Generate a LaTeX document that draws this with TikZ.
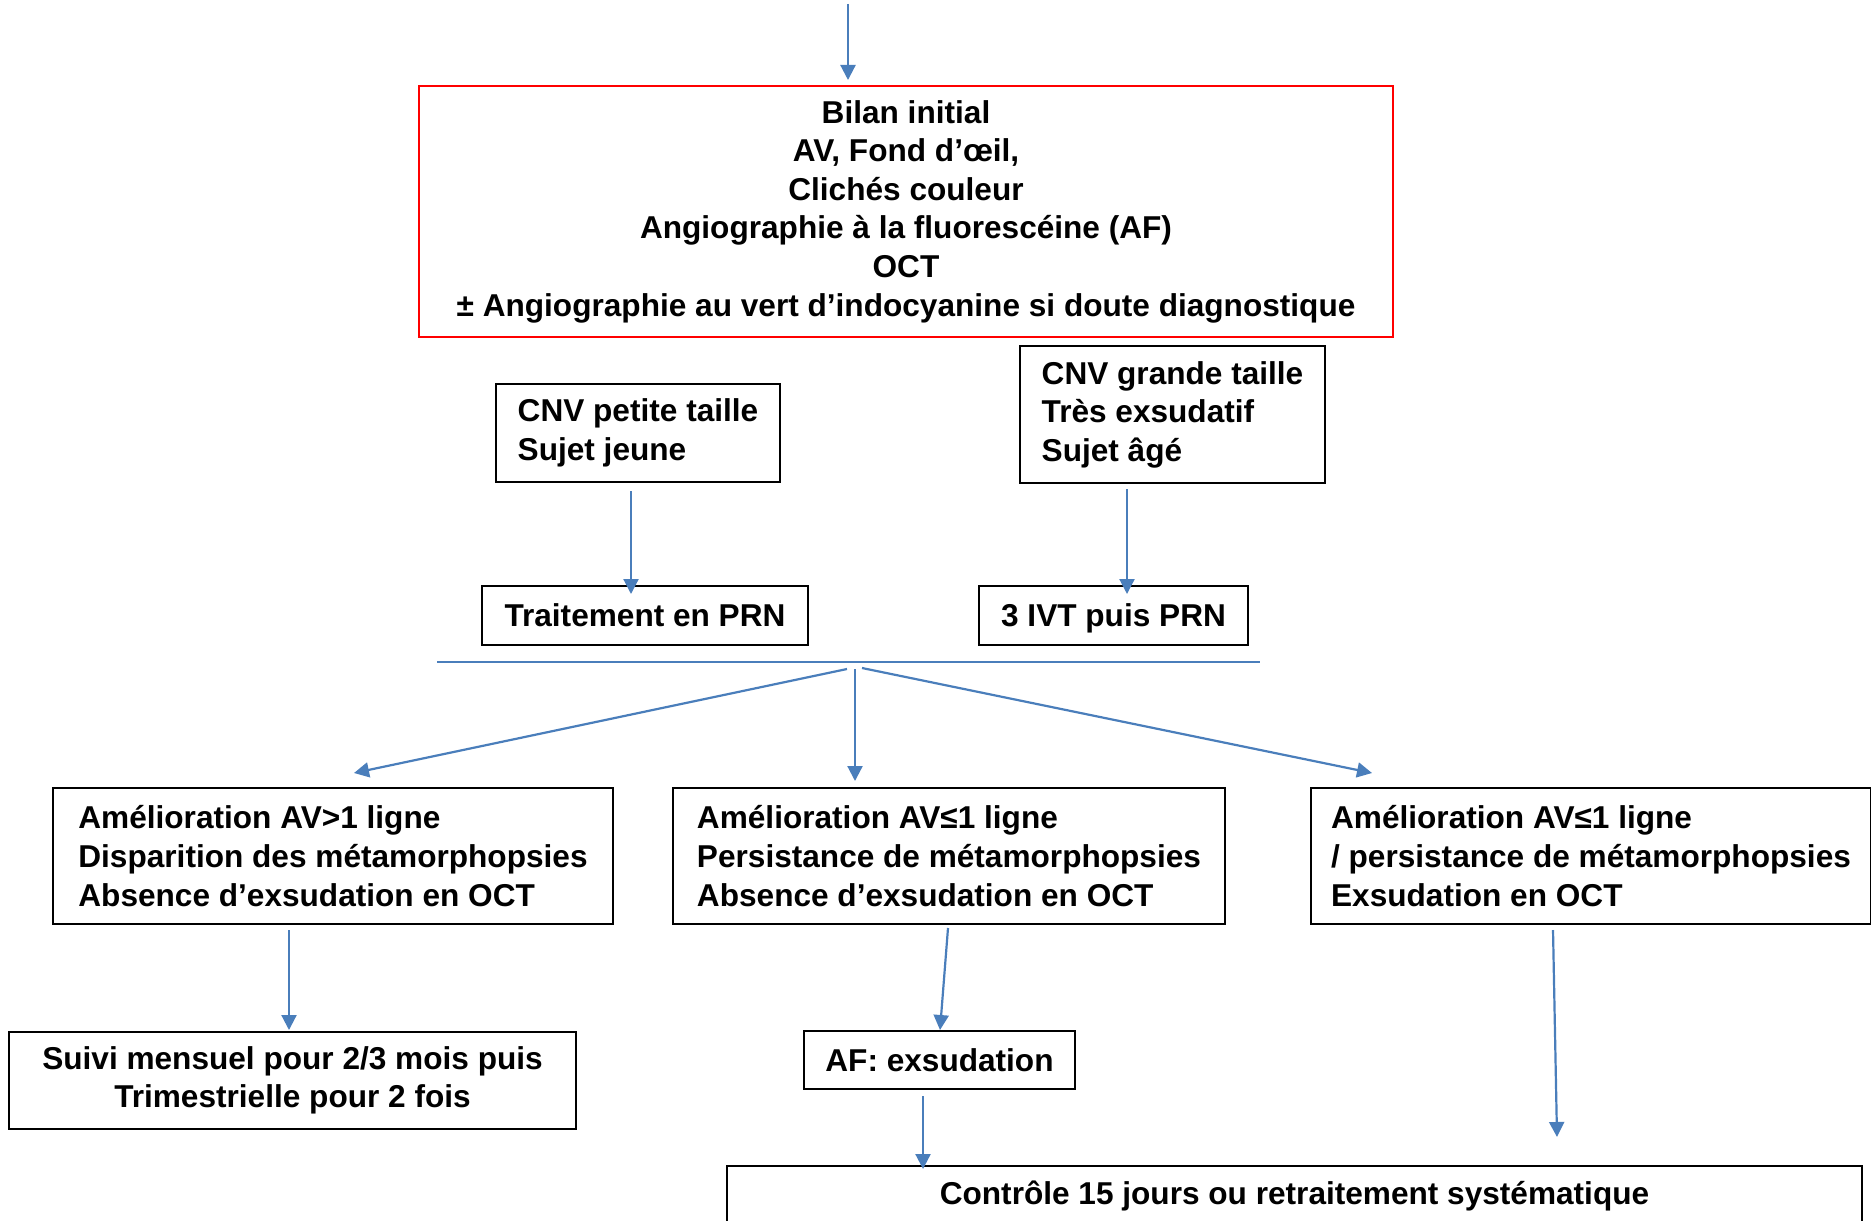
\documentclass[tikz,border=0pt]{standalone}
\usepackage{fontspec}
\setmainfont{Liberation Sans}
\usetikzlibrary{arrows.meta}
\definecolor{flowblue}{RGB}{74,126,187}
\definecolor{boxred}{RGB}{255,0,0}
\begin{document}
\begin{tikzpicture}[x=0.5pt,y=-0.5pt,
    box/.style={draw=black, line width=1pt, anchor=north west,
      font=\bfseries\fontsize{15.8}{19.3}\selectfont,
      inner xsep=0pt, inner ysep=0pt},
    flow/.style={draw=flowblue, line width=1.1pt,
      -{Triangle[length=7.5pt,width=7.5pt]}},
    rule/.style={draw=flowblue, line width=0.9pt}]
  \useasboundingbox (0,0) rectangle (1871,1220);
  \clip (0,0) rectangle (1871,1220);
  % boxes
  \node[box, draw=boxred, align=center, minimum width=487pt, minimum height=125.5pt]
    (bilan) at (418,85) {Bilan initial\\AV, Fond d’œil,\\Clichés couleur\\
      Angiographie à la fluorescéine (AF)\\OCT\\
      ± Angiographie au vert d’indocyanine si doute diagnostique};
  \node[box, align=left, minimum width=142pt, minimum height=49pt]
    (cnvp) at (495,383) {CNV petite taille\\Sujet jeune};
  \node[box, align=left, minimum width=152.5pt, minimum height=68.5pt]
    (cnvg) at (1019,345) {CNV grande taille\\Très exsudatif\\Sujet âgé};
  \node[box, align=center, minimum width=163pt, minimum height=29.5pt]
    (prn) at (481,585) {Traitement en PRN};
  \node[box, align=center, text depth=0pt, minimum width=134.5pt, minimum height=29.5pt]
    (ivt) at (978,585) {3 IVT puis PRN};
  \node[box, align=left, minimum width=280pt, minimum height=68pt]
    (l1) at (52,787) {Amélioration AV>1 ligne\\Disparition des métamorphopsies\\
      Absence d’exsudation en OCT};
  \node[box, align=left, minimum width=276pt, minimum height=68pt]
    (m1) at (672,787) {Amélioration AV≤1 ligne\\Persistance de métamorphopsies\\
      Absence d’exsudation en OCT};
  \node[box, align=left, minimum width=280pt, minimum height=68pt]
    (r1) at (1310,787) {Amélioration AV≤1 ligne\\/ persistance de métamorphopsies\\
      Exsudation en OCT};
  \node[box, align=center, minimum width=283.5pt, minimum height=48.5pt]
    (suivi) at (8,1031) {Suivi mensuel pour 2/3 mois puis\\Trimestrielle pour 2 fois};
  \node[box, align=center, minimum width=135.5pt, minimum height=29pt]
    (af) at (803,1030) {AF: exsudation};
  \node[box, align=center, minimum width=567.5pt, minimum height=30pt]
    (ctrl) at (726,1165) {Contrôle 15 jours ou retraitement systématique};
  % free ends
  \coordinate (start) at (848,4);
  \coordinate (hl) at (437,662);
  \coordinate (hr) at (1260,662);
  \coordinate (fork) at (855,669);
  \coordinate (tl) at (354,773);
  \coordinate (tr) at (1372,773);
  % connectors
  \draw[flow, shorten >=2.5pt] (start) -- (start |- bilan.north);
  \draw[flow] (cnvp.south) ++(-7,8) -- ++(0,103);
  \draw[flow] (cnvg.south) ++(-45.5,5) -- ++(0,105);
  \draw[rule] (hl) -- (hr);
  \draw[flow] (fork) ++(-8,0) -- (tl);
  \draw[flow, shorten >=3pt] (fork) -- (fork |- m1.north);
  \draw[flow] (fork) ++(7,-1) -- (tr);
  \draw[flow] (l1.south) ++(-44,5) -- ++(0,100);
  \draw[flow] (m1.south) ++(-1,3) -- ++(-8,102);
  \draw[flow] (af.south) ++(-16.5,6) -- ++(0,73);
  \draw[flow] (r1.south) ++(-38,5) -- ++(4,207);
\end{tikzpicture}
\end{document}
